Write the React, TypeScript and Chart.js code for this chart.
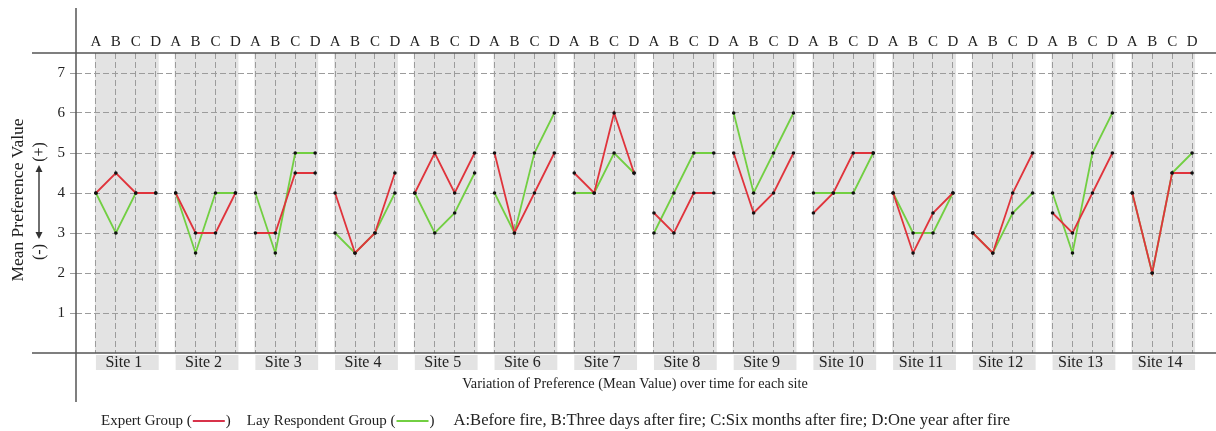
import React, { useEffect, useRef } from 'react';
import { Chart, registerables } from 'chart.js';

Chart.register(...registerables);

const siteLabels = ['Site 1', 'Site 2', 'Site 3', 'Site 4', 'Site 5', 'Site 6', 'Site 7', 'Site 8', 'Site 9', 'Site 10', 'Site 11', 'Site 12', 'Site 13', 'Site 14'];
const periodLabels = ['A', 'B', 'C', 'D'];
const yTickLabels = ['1', '2', '3', '4', '5', '6', '7'];

const expertGroup = [
  [4, 4.5, 4, 4],
  [4, 3, 3, 4],
  [3, 3, 4.5, 4.5],
  [4, 2.5, 3, 4.5],
  [4, 5, 4, 5],
  [5, 3, 4, 5],
  [4.5, 4, 6, 4.5],
  [3.5, 3, 4, 4],
  [5, 3.5, 4, 5],
  [3.5, 4, 5, 5],
  [4, 2.5, 3.5, 4],
  [3, 2.5, 4, 5],
  [3.5, 3, 4, 5],
  [4, 2, 4.5, 4.5],
];

const layGroup = [
  [4, 3, 4, 4],
  [4, 2.5, 4, 4],
  [4, 2.5, 5, 5],
  [3, 2.5, 3, 4],
  [4, 3, 3.5, 4.5],
  [4, 3, 5, 6],
  [4, 4, 5, 4.5],
  [3, 4, 5, 5],
  [6, 4, 5, 6],
  [4, 4, 4, 5],
  [4, 3, 3, 4],
  [3, 2.5, 3.5, 4],
  [4, 2.5, 5, 6],
  [4, 2, 4.5, 5],
];

const legendTexts = ['Expert Group (', ')', 'Lay Respondent Group (', ')', 'A:Before fire, B:Three days after fire; C:Six months after fire; D:One year after fire'];
const xTitle = 'Variation of Preference (Mean Value) over time for each site';
const yTitle = 'Mean Preference Value';

const RED = '#e0343c';
const GREEN = '#72cf42';
const GRID = '#9c9c9c';
const AXIS = '#555555';
const BAND = '#e3e3e3';
const SERIF = '"Liberation Serif", "Times New Roman", serif';

const toPoints = (groups: number[][]) =>
  groups.flatMap((vals, s) => vals.map((v, p) => ({ x: s * periodLabels.length + p, y: v })));

const totalPoints = siteLabels.length * periodLabels.length;

const decorPlugin = {
  id: 'decor',
  beforeDraw(chart: any) {
    const { ctx, scales } = chart;
    const x = scales.x, y = scales.y;
    const top = y.getPixelForValue(7.5);
    const bottom = y.getPixelForValue(0);
    ctx.save();
    ctx.fillStyle = BAND;
    siteLabels.forEach((_, i) => {
      const xa = x.getPixelForValue(i * 4);
      const xd = x.getPixelForValue(i * 4 + 3);
      ctx.fillRect(xa - 1, top, xd - xa + 4, bottom - top);
      ctx.fillRect(xa, bottom + 2, xd - xa + 3, 15);
    });
    ctx.restore();
  },
  afterDraw(chart: any) {
    const { ctx, scales } = chart;
    const x = scales.x, y = scales.y;
    const top = y.getPixelForValue(7.5);
    const bottom = y.getPixelForValue(0);
    const left = chart.chartArea.left;
    ctx.save();
    ctx.strokeStyle = AXIS;
    ctx.lineWidth = 1.5;
    ctx.beginPath();
    ctx.moveTo(32, top); ctx.lineTo(chart.width, top);
    ctx.moveTo(32, bottom); ctx.lineTo(chart.width, bottom);
    ctx.moveTo(left, 8); ctx.lineTo(left, 402);
    ctx.stroke();

    ctx.fillStyle = '#222';
    ctx.textBaseline = 'middle';
    ctx.textAlign = 'center';
    ctx.font = `15px ${SERIF}`;
    for (let i = 0; i < totalPoints; i++) {
      ctx.fillText(periodLabels[i % 4], x.getPixelForValue(i), 42);
    }
    ctx.font = `16px ${SERIF}`;
    siteLabels.forEach((s, i) => {
      const xa = x.getPixelForValue(i * 4);
      const xd = x.getPixelForValue(i * 4 + 3);
      ctx.fillText(s, (xa + xd) / 2 - 2, 363);
    });
    ctx.font = `14.3px ${SERIF}`;
    ctx.fillText(xTitle, 635, 384);

    ctx.save();
    ctx.translate(18, 200);
    ctx.rotate(-Math.PI / 2);
    ctx.font = `17.5px ${SERIF}`;
    ctx.fillText(yTitle, 0, 0);
    ctx.restore();
    ctx.save();
    ctx.font = `16px ${SERIF}`;
    ctx.translate(40, 152);
    ctx.rotate(-Math.PI / 2);
    ctx.fillText('(+)', 0, 0);
    ctx.restore();
    ctx.save();
    ctx.font = `16px ${SERIF}`;
    ctx.translate(40, 252);
    ctx.rotate(-Math.PI / 2);
    ctx.fillText('(-)', 0, 0);
    ctx.restore();
    ctx.strokeStyle = '#333';
    ctx.fillStyle = '#333';
    ctx.lineWidth = 1.4;
    ctx.beginPath();
    ctx.moveTo(39, 170); ctx.lineTo(39, 234);
    ctx.stroke();
    ctx.beginPath();
    ctx.moveTo(39, 165); ctx.lineTo(35.5, 172); ctx.lineTo(42.5, 172); ctx.closePath();
    ctx.moveTo(39, 239); ctx.lineTo(35.5, 232); ctx.lineTo(42.5, 232); ctx.closePath();
    ctx.fill();

    ctx.textAlign = 'left';
    ctx.fillStyle = '#222';
    const ly = 421;
    let cx = 101;
    const drawText = (t: string, size: number) => {
      ctx.font = `${size}px ${SERIF}`;
      ctx.fillText(t, cx, ly);
      cx += ctx.measureText(t).width;
    };
    const drawSample = (c: string) => {
      ctx.strokeStyle = c; ctx.lineWidth = 2;
      ctx.beginPath(); ctx.moveTo(cx + 1, ly); ctx.lineTo(cx + 33, ly); ctx.stroke();
      cx += 34;
    };
    drawText(legendTexts[0], 15); drawSample('#d8324a'); drawText(legendTexts[1], 15);
    cx += 16;
    drawText(legendTexts[2], 15); drawSample(GREEN); drawText(legendTexts[3], 15);
    cx += 19;
    drawText(legendTexts[4], 16.6);
    ctx.restore();
  },
};

export default function App() {
  const ref = useRef<HTMLCanvasElement | null>(null);
  useEffect(() => {
    if (!ref.current) return;
    const makeDs = (label: string, groups: number[][], color: string) => ({
      label,
      data: toPoints(groups),
      borderColor: color,
      backgroundColor: color,
      borderWidth: 1.8,
      pointRadius: 1.8,
      pointBackgroundColor: '#111',
      pointBorderWidth: 0,
      tension: 0,
      segment: {
        borderColor: (c: any) => (c.p0DataIndex % 4 === 3 ? 'rgba(0,0,0,0)' : color),
      },
    });
    const chart = new Chart(ref.current, {
      type: 'line',
      data: {
        datasets: [
          makeDs('Expert Group', expertGroup, RED),
          makeDs('Lay Respondent Group', layGroup, GREEN),
        ],
      },
      options: {
        animation: false,
        responsive: false,
        layout: { padding: { top: 53, bottom: 78, left: 0, right: 0 } },
        plugins: { legend: { display: false }, tooltip: { enabled: false } },
        scales: {
          x: {
            type: 'linear',
            min: -1,
            max: totalPoints,
            ticks: { display: false, stepSize: 1, autoSkip: false, maxTicksLimit: 1000 },
            grid: {
              drawTicks: false,
              color: (c: any) => (c.tick && c.tick.value >= 0 && c.tick.value < totalPoints ? GRID : 'rgba(0,0,0,0)'),
              lineWidth: 1,
            },
            border: { display: false, dash: [6, 3] },
            afterFit: (s: any) => { s.height = 0; },
          },
          y: {
            min: 0,
            max: 7.5,
            ticks: {
              stepSize: 0.5,
              padding: 5,
              color: '#222',
              font: { family: SERIF, size: 15 },
              callback: (v: any) => {
                const n = Number(v);
                return Number.isInteger(n) && n >= 1 ? yTickLabels[n - 1] ?? '' : '';
              },
            },
            grid: {
              color: (c: any) => (c.tick && c.tick.value > 0 && c.tick.value < 7.5 ? GRID : 'rgba(0,0,0,0)'),
              tickLength: 6,
              lineWidth: 1,
            },
            border: { display: false, dash: [6, 3] },
            afterFit: (s: any) => { s.width = 76; },
          },
        },
      },
      plugins: [decorPlugin],
    });
    return () => chart.destroy();
  }, []);
  return (
    <div style={{ position: 'fixed', left: 0, top: 0, width: 1216, height: 431, background: '#fff' }}>
      <canvas ref={ref} width={1216} height={431} />
    </div>
  );
}
